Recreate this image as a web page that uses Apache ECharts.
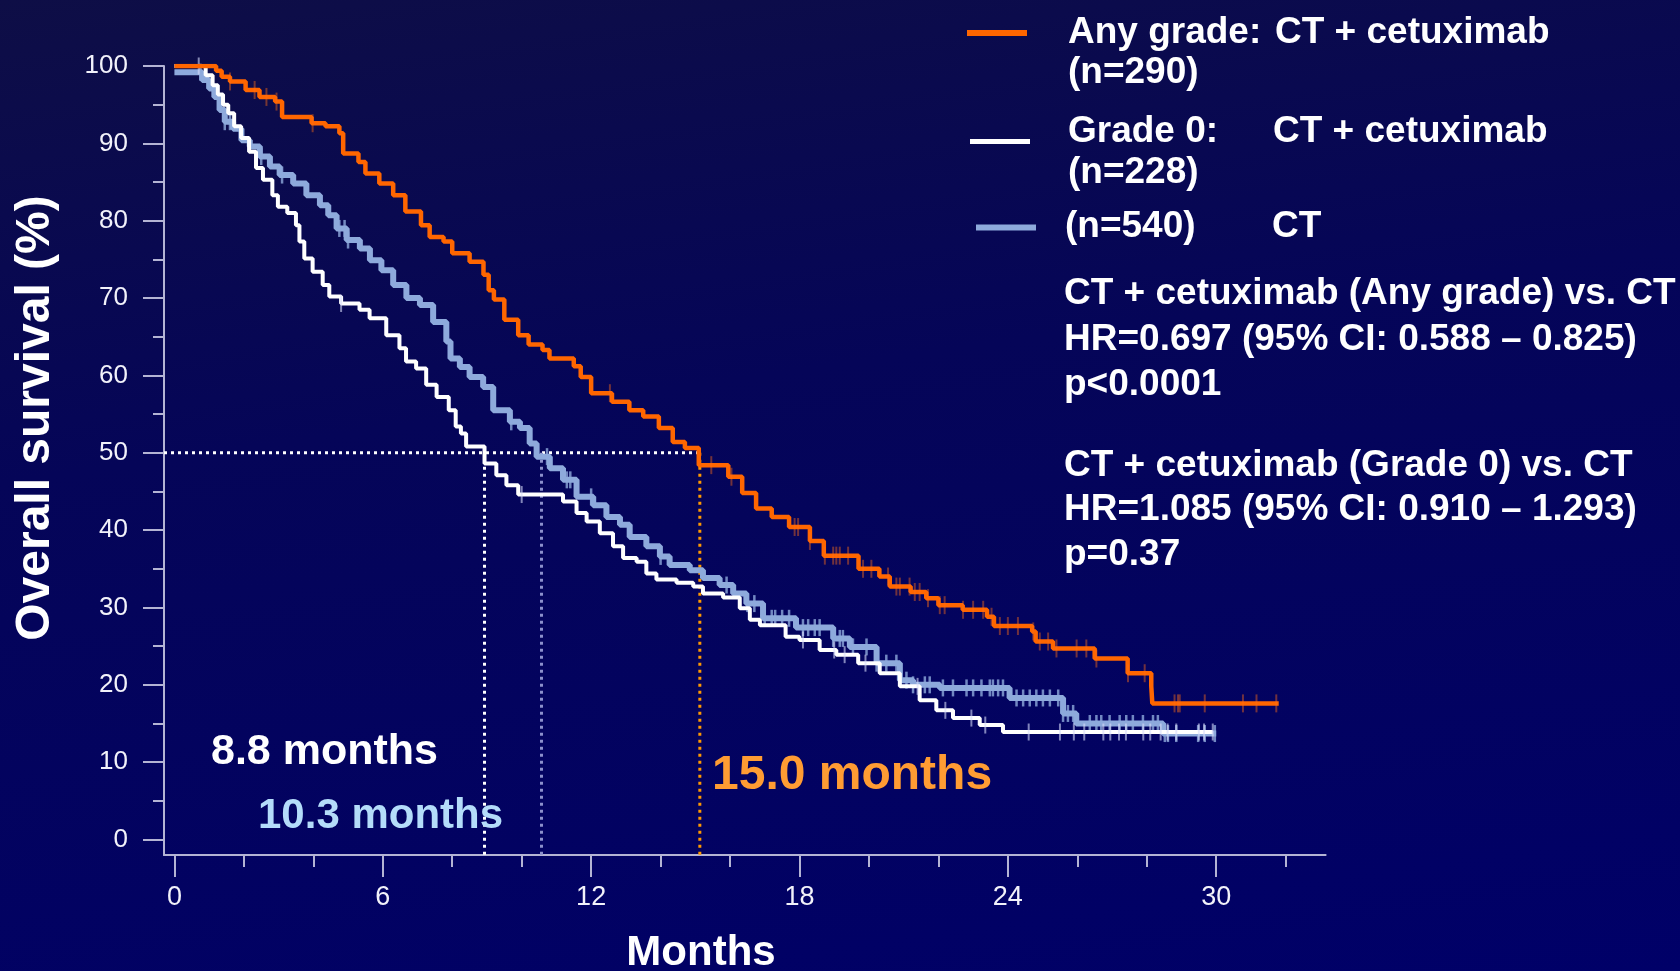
<!DOCTYPE html>
<html>
<head>
<meta charset="utf-8">
<script src="https://cdn.jsdelivr.net/npm/echarts@6/dist/echarts.min.js"></script>
<style>
html,body{margin:0;padding:0;width:1680px;height:971px;overflow:hidden;background:#000060;}
#chart{width:1680px;height:971px;background:linear-gradient(172deg,#0e0e46 0%,#050558 40%,#000068 100%);}
</style>
</head>
<body>
<div id="chart"></div>
<script>
// ---------- data ----------
const anyGradeMonths = [0, 1.2, 1.36, 1.6, 2.05, 2.45, 2.9, 3.1, 3.95, 4.35, 4.75, 4.86, 5.3, 5.5, 5.9, 6.3, 6.65, 7.1, 7.35, 7.75, 8.0, 8.5, 8.9, 9.05, 9.2, 9.5, 9.9, 10.2, 10.6, 10.8, 11.5, 11.7, 12.0, 12.6, 13.1, 13.5, 13.95, 14.35, 14.7, 15.1, 15.95, 16.35, 16.75, 17.2, 17.7, 18.3, 18.7, 19.7, 20.3, 20.6, 21.2, 21.65, 22.0, 22.7, 23.4, 23.6, 24.7, 24.8, 25.3, 26.5, 27.45, 28.13, 28.16, 31.8];
const anyGradeSurvival = [100, 99.4, 98.6, 98.0, 96.9, 96.0, 95.4, 93.4, 92.6, 92.2, 91.3, 88.7, 87.6, 86.1, 84.8, 83.3, 81.2, 79.4, 77.9, 77.3, 75.8, 74.7, 73.0, 71.0, 69.8, 67.2, 65.2, 64.0, 63.3, 62.2, 61.2, 59.8, 57.7, 56.6, 55.5, 54.7, 53.2, 51.4, 50.6, 48.4, 46.9, 44.8, 42.8, 41.7, 40.4, 38.6, 36.7, 35.0, 34.0, 32.7, 32.0, 31.2, 30.3, 29.7, 28.8, 27.6, 26.9, 25.6, 24.7, 23.4, 21.5, 19.8, 17.6, 17.6];

const grade0Months = [0, 0.9, 1.1, 1.25, 1.4, 1.55, 1.72, 1.92, 2.15, 2.35, 2.55, 2.82, 2.98, 3.25, 3.5, 3.6, 3.74, 3.98, 4.27, 4.46, 4.8, 5.33, 5.62, 6.1, 6.48, 6.67, 6.96, 7.25, 7.55, 7.9, 8.1, 8.25, 8.4, 8.93, 9.27, 9.56, 9.9, 11.19, 11.58, 11.87, 12.25, 12.63, 12.92, 13.31, 13.59, 13.88, 14.46, 14.94, 15.22, 15.8, 16.28, 16.57, 16.86, 17.6, 18.0, 18.58, 19.06, 19.69, 20.31, 20.89, 21.46, 21.94, 22.42, 23.19, 23.86, 29.9];
const grade0Survival = [100, 98.8, 97.5, 96.3, 95.0, 93.9, 92.2, 90.7, 88.9, 86.8, 85.3, 83.3, 81.8, 81.0, 79.4, 77.3, 75.1, 73.4, 71.7, 70.2, 69.3, 68.5, 67.4, 65.2, 63.5, 61.8, 60.9, 58.8, 57.2, 55.5, 53.4, 52.5, 50.8, 48.6, 47.1, 45.8, 44.6, 43.7, 42.2, 41.1, 39.6, 37.9, 36.4, 35.9, 34.4, 33.6, 33.2, 32.7, 31.8, 31.3, 29.9, 28.4, 27.7, 26.2, 25.8, 24.5, 23.9, 22.8, 21.5, 19.8, 18.0, 16.7, 15.7, 14.8, 13.9, 13.9];

const ctMonths = [0, 0.8, 1.0, 1.15, 1.3, 1.45, 1.69, 1.93, 2.17, 2.46, 2.75, 3.03, 3.42, 3.8, 4.19, 4.43, 4.67, 4.96, 5.34, 5.63, 5.96, 6.3, 6.68, 7.07, 7.45, 7.83, 7.95, 8.22, 8.5, 8.89, 9.18, 9.66, 9.95, 10.23, 10.43, 10.81, 11.19, 11.58, 12.06, 12.44, 12.83, 13.11, 13.59, 13.98, 14.26, 14.84, 15.22, 15.7, 16.09, 16.47, 16.95, 17.9, 18.97, 19.45, 20.22, 20.89, 21.27, 22.04, 24.05, 25.59, 25.97, 28.47, 30.0];
const ctSurvival = [99.2, 98.2, 97.1, 96.0, 94.3, 92.8, 91.9, 90.4, 89.6, 88.3, 87.0, 85.9, 84.8, 83.3, 82.0, 80.7, 79.0, 77.5, 76.4, 74.9, 73.6, 71.7, 70.0, 69.1, 66.9, 64.4, 62.2, 61.1, 59.8, 58.5, 55.5, 54.0, 53.2, 51.2, 49.5, 48.0, 46.5, 44.3, 43.2, 41.7, 40.7, 39.1, 37.9, 36.6, 35.5, 34.8, 33.8, 32.9, 31.8, 30.5, 28.6, 27.4, 26.0, 24.9, 22.8, 20.6, 20.0, 19.6, 18.3, 16.3, 15.0, 13.7, 13.7];

// censored observation times (tick marks on the curves)
const anyGradeCensored = [1.6, 2.31, 2.65, 2.94, 3.98, 12.54, 15.46, 16.04, 17.86, 17.96, 18.3, 18.73, 18.97, 19.06, 19.16, 19.4, 19.83, 20.07, 20.55, 20.79, 20.89, 21.17, 21.32, 21.46, 21.7, 22.04, 22.18, 22.71, 23.0, 23.29, 23.53, 23.77, 24.0, 24.29, 24.73, 24.92, 25.16, 25.4, 25.98, 26.26, 26.55, 27.46, 27.94, 28.8, 28.9, 28.95, 29.67, 30.77, 31.16, 31.73];
const grade0Censored = [0.7, 4.8, 10.0, 18.1, 19.0, 19.3, 19.9, 21.4, 22.2, 22.95, 23.35, 24.6, 25.5, 25.9, 26.2, 26.75, 26.95, 27.2, 27.4, 27.9, 28.1, 28.4, 28.6, 28.85, 29.5, 29.65, 29.9];
const ctCensored = [0.75, 1.45, 1.6, 2.5, 3.1, 4.75, 4.9, 5.0, 9.7, 10.73, 11.3, 11.4, 12.0, 14.0, 15.9, 16.5, 16.7, 17.0, 17.2, 17.3, 17.5, 17.7, 18.1, 18.25, 18.44, 18.58, 18.97, 19.16, 19.25, 19.54, 19.93, 20.22, 20.5, 20.79, 21.08, 21.27, 21.61, 21.75, 22.13, 22.42, 22.81, 23.0, 23.24, 23.48, 23.57, 23.72, 23.86, 24.25, 24.44, 24.63, 24.82, 25.01, 25.21, 25.45, 25.59, 25.73, 25.88, 26.36, 26.55, 26.69, 26.93, 27.22, 27.41, 27.6, 27.89, 28.18, 28.32, 28.52, 28.61, 28.85, 29.48, 29.67, 29.96];

// median drop-lines as drawn in the picture
const medianMonths = [8.93, 10.57, 15.13];
const medianLevel = 50;
const medianLabels = ['8.8 months', '10.3 months', '15.0 months'];

// axes
const xTickLabels = [0, 6, 12, 18, 24, 30];
const xMinorTicks = [2, 4, 8, 10, 14, 16, 20, 22, 26, 28, 32];
const yTickLabels = [0, 10, 20, 30, 40, 50, 60, 70, 80, 90, 100];
const yMinorTicks = [5, 15, 25, 35, 45, 55, 65, 75, 85, 95];

// texts
const legendLeft = ['Any grade:', '(n=290)', 'Grade 0:', '(n=228)', '(n=540)'];
const legendRight = ['CT + cetuximab', 'CT + cetuximab', 'CT'];
const statsLines = [
  'CT + cetuximab (Any grade) vs. CT',
  'HR=0.697 (95% CI: 0.588 \u2013 0.825)',
  'p<0.0001',
  'CT + cetuximab (Grade 0) vs. CT',
  'HR=1.085 (95% CI: 0.910 \u2013 1.293)',
  'p=0.37'
];

// ---------- styling / layout ----------
const FONT = '"Liberation Sans", Arial, Helvetica, sans-serif';
const X_MIN = -0.3, X_MAX = 33.15, Y_MIN = -2, Y_MAX = 100;
const C_ORANGE = '#ff6600', C_WHITE = '#ffffff', C_BLUE = '#8eaadc';
const AXIS_COLOR = '#b4b4d4';

function pairs(xs, ys) { return xs.map((x, i) => [x, ys[i]]); }
function stepAt(times, vals, t) {
  let v = vals[0];
  for (let i = 0; i < times.length; i++) { if (times[i] <= t) v = vals[i]; else break; }
  return v;
}
function censorData(cens, times, vals) { return cens.map(t => [t, stepAt(times, vals, t)]); }

const chart = echarts.init(document.getElementById('chart'), null, { renderer: 'canvas' });

function xAxisCfg(ticks, len, labels, showLine) {
  return {
    type: 'value', min: X_MIN, max: X_MAX, gridIndex: 0, position: 'bottom', offset: 0,
    axisLine: { show: showLine, onZero: false, lineStyle: { color: AXIS_COLOR, width: 2 } },
    axisTick: { show: true, customValues: ticks, length: len, lineStyle: { color: AXIS_COLOR, width: 2 } },
    axisLabel: labels ? { show: true, customValues: labels, color: '#f2f2fa', fontSize: 27, fontFamily: FONT, margin: 29 } : { show: false },
    splitLine: { show: false }
  };
}
function yAxisCfg(ticks, len, labels, showLine) {
  return {
    type: 'value', min: Y_MIN, max: Y_MAX, gridIndex: 0, position: 'left', offset: 0,
    axisLine: { show: showLine, onZero: false, lineStyle: { color: AXIS_COLOR, width: 2 } },
    axisTick: { show: true, customValues: ticks, length: len, lineStyle: { color: AXIS_COLOR, width: 2 } },
    axisLabel: labels ? { show: true, customValues: labels, color: '#f2f2fa', fontSize: 26, fontFamily: FONT, margin: 36 } : { show: false },
    splitLine: { show: false }
  };
}

const dotStyle = (color) => ({ color: color, width: 3, type: [3, 4], cap: 'butt' });
const medianColors = ['#ffffff', '#8c90cc', '#ff9900'];

const series = [];
// horizontal median line
series.push({
  type: 'line', data: [[X_MIN, medianLevel], [medianMonths[2], medianLevel]],
  symbol: 'none', lineStyle: dotStyle('#ffffff'), silent: true, z: 1
});
medianMonths.forEach((m, i) => {
  series.push({
    type: 'line', data: [[m, medianLevel], [m, Y_MIN]],
    symbol: 'none', lineStyle: dotStyle(medianColors[i]), silent: true, z: 1
  });
});
// CT
series.push({ type: 'line', name: 'CT', step: 'end', data: pairs(ctMonths, ctSurvival), symbol: 'none',
  lineStyle: { color: C_BLUE, width: 6 }, silent: true, z: 2 });
series.push({ type: 'scatter', data: censorData(ctCensored, ctMonths, ctSurvival), symbol: 'rect',
  symbolSize: [2.5, 17], itemStyle: { color: C_BLUE }, silent: true, z: 3 });
// Grade 0
series.push({ type: 'line', name: 'Grade 0', step: 'end', data: pairs(grade0Months, grade0Survival), symbol: 'none',
  lineStyle: { color: C_WHITE, width: 4 }, silent: true, z: 4 });
series.push({ type: 'scatter', data: censorData(grade0Censored, grade0Months, grade0Survival), symbol: 'rect',
  symbolSize: [2, 17], itemStyle: { color: 'rgba(215,220,250,0.75)' }, silent: true, z: 4 });
// Any grade
series.push({ type: 'line', name: 'Any grade', step: 'end', data: pairs(anyGradeMonths, anyGradeSurvival), symbol: 'none',
  lineStyle: { color: C_ORANGE, width: 4.5 }, silent: true, z: 5 });
series.push({ type: 'scatter', data: censorData(anyGradeCensored, anyGradeMonths, anyGradeSurvival), symbol: 'rect',
  symbolSize: [2, 18], itemStyle: { color: 'rgba(255,110,20,0.55)' }, silent: true, z: 5 });

function txt(x, y, text, size, color, align) {
  return {
    type: 'text', x: x, y: y, silent: true, z: 100,
    style: { text: text, font: 'bold ' + size + 'px ' + FONT, fill: color,
      textAlign: align || 'left', align: align || 'left', textVerticalAlign: 'middle', verticalAlign: 'middle' }
  };
}
function lineEl(x1, x2, y, color, w) {
  return { type: 'line', silent: true, z: 100, shape: { x1: x1, y1: y, x2: x2, y2: y }, style: { stroke: color, lineWidth: w } };
}

const legendY = [33, 73, 132, 173, 227];
const statsY = [294, 339.5, 385, 465.5, 510, 555];
const graphics = [
  lineEl(967, 1027, 33, C_ORANGE, 6),
  lineEl(970, 1030, 141.5, C_WHITE, 5),
  lineEl(976, 1036, 227.5, C_BLUE, 6),
  txt(1068, legendY[0], legendLeft[0], 37, '#ffffff'),
  txt(1068, legendY[1], legendLeft[1], 37, '#ffffff'),
  txt(1068, legendY[2], legendLeft[2], 37, '#ffffff'),
  txt(1068, legendY[3], legendLeft[3], 37, '#ffffff'),
  txt(1065, legendY[4], legendLeft[4], 37, '#ffffff'),
  txt(1275, legendY[0], legendRight[0], 37, '#ffffff'),
  txt(1273, legendY[2], legendRight[1], 37, '#ffffff'),
  txt(1272, legendY[4], legendRight[2], 37, '#ffffff'),
  txt(211, 752.6, medianLabels[0], 43, '#ffffff'),
  txt(258, 816, medianLabels[1], 42, '#b4dcfa'),
  txt(712, 775.8, medianLabels[2], 48, '#ff9c33'),
  txt(701, 953, 'Months', 42, '#ffffff', 'center'),
  {
    type: 'text', x: 36, y: 418, rotation: Math.PI / 2, silent: true, z: 100,
    style: { text: 'Overall survival (%)', font: 'bold 48px ' + FONT, fill: '#ffffff',
      textAlign: 'center', align: 'center', textVerticalAlign: 'middle', verticalAlign: 'middle' }
  }
];
statsLines.forEach((s, i) => graphics.push(txt(1064, statsY[i], s, 37, '#ffffff')));

chart.setOption({
  backgroundColor: 'transparent',
  animation: false,
  grid: { left: 164, top: 66, width: 1161.6, height: 789, containLabel: false },
  xAxis: [xAxisCfg(xTickLabels, 22, xTickLabels, true), xAxisCfg(xMinorTicks, 12, null, false)],
  yAxis: [yAxisCfg(yTickLabels, 21, yTickLabels, true), yAxisCfg(yMinorTicks, 11, null, false)],
  series: series,
  graphic: graphics
});
</script>
</body>
</html>
